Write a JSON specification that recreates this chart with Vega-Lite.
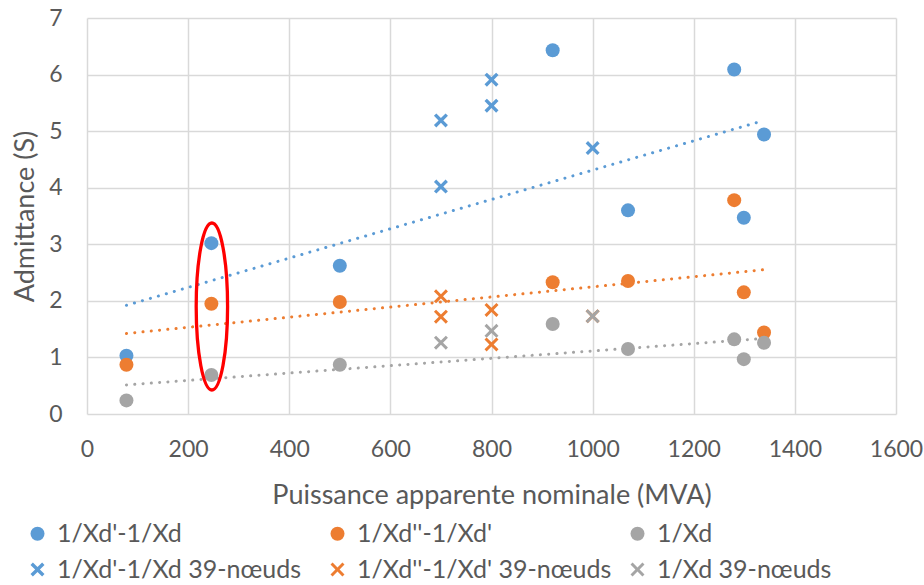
{
  "$schema": "https://vega.github.io/schema/vega-lite/v6.json",
  "width": 809,
  "height": 396,
  "autosize": "none",
  "padding": {"left": 87, "top": 18, "right": 28, "bottom": 171},
  "background": "white",
  "config": {
    "font": "Lato",
    "view": {"stroke": null},
    "axis": {
      "labelFont": "Lato", "titleFont": "Lato",
      "labelColor": "#595959", "titleColor": "#595959",
      "labelFontSize": 23, "titleFontSize": 27, "titleFontWeight": "normal",
      "gridColor": "#D9D9D9", "gridWidth": 1.5, "labelFlush": false,
      "domain": false, "ticks": false, "tickSize": 0
    },
    "legend": {"labelFont": "Lato"}
  },
  "datasets": {
    "pts": [
      {"series": "1/Xd'-1/Xd", "x": 78, "y": 1.03},
      {"series": "1/Xd'-1/Xd", "x": 246, "y": 3.02},
      {"series": "1/Xd'-1/Xd", "x": 500, "y": 2.62},
      {"series": "1/Xd'-1/Xd", "x": 921, "y": 6.43},
      {"series": "1/Xd'-1/Xd", "x": 1070, "y": 3.60},
      {"series": "1/Xd'-1/Xd", "x": 1280, "y": 6.09},
      {"series": "1/Xd'-1/Xd", "x": 1299, "y": 3.47},
      {"series": "1/Xd'-1/Xd", "x": 1339, "y": 4.94},
      {"series": "1/Xd''-1/Xd'", "x": 78, "y": 0.87},
      {"series": "1/Xd''-1/Xd'", "x": 246, "y": 1.95},
      {"series": "1/Xd''-1/Xd'", "x": 500, "y": 1.98},
      {"series": "1/Xd''-1/Xd'", "x": 921, "y": 2.33},
      {"series": "1/Xd''-1/Xd'", "x": 1070, "y": 2.35},
      {"series": "1/Xd''-1/Xd'", "x": 1280, "y": 3.78},
      {"series": "1/Xd''-1/Xd'", "x": 1299, "y": 2.15},
      {"series": "1/Xd''-1/Xd'", "x": 1339, "y": 1.44},
      {"series": "1/Xd", "x": 78, "y": 0.24},
      {"series": "1/Xd", "x": 246, "y": 0.69},
      {"series": "1/Xd", "x": 500, "y": 0.87},
      {"series": "1/Xd", "x": 921, "y": 1.59},
      {"series": "1/Xd", "x": 1070, "y": 1.15},
      {"series": "1/Xd", "x": 1280, "y": 1.32},
      {"series": "1/Xd", "x": 1299, "y": 0.97},
      {"series": "1/Xd", "x": 1339, "y": 1.26},
      {"series": "1/Xd'-1/Xd 39-nœuds", "x": 700, "y": 5.19},
      {"series": "1/Xd'-1/Xd 39-nœuds", "x": 700, "y": 4.02},
      {"series": "1/Xd'-1/Xd 39-nœuds", "x": 800, "y": 5.91},
      {"series": "1/Xd'-1/Xd 39-nœuds", "x": 800, "y": 5.45},
      {"series": "1/Xd'-1/Xd 39-nœuds", "x": 1000, "y": 4.70},
      {"series": "1/Xd''-1/Xd' 39-nœuds", "x": 700, "y": 2.08},
      {"series": "1/Xd''-1/Xd' 39-nœuds", "x": 700, "y": 1.72},
      {"series": "1/Xd''-1/Xd' 39-nœuds", "x": 800, "y": 1.84},
      {"series": "1/Xd''-1/Xd' 39-nœuds", "x": 800, "y": 1.23},
      {"series": "1/Xd''-1/Xd' 39-nœuds", "x": 1000, "y": 1.73},
      {"series": "1/Xd 39-nœuds", "x": 700, "y": 1.26},
      {"series": "1/Xd 39-nœuds", "x": 800, "y": 1.47},
      {"series": "1/Xd 39-nœuds", "x": 1000, "y": 1.73}
    ],
    "note": [{"x": 247, "y": 1.9}]
  },
  "encoding": {
    "x": {
      "field": "x", "type": "quantitative", "title": "Puissance apparente nominale (MVA)",
      "scale": {"domain": [0, 1600], "nice": false},
      "axis": {"values": [0, 200, 400, 600, 800, 1000, 1200, 1400, 1600], "format": "d", "labelPadding": 24, "titleY": 89, "titleBaseline": "alphabetic"}
    },
    "y": {
      "field": "y", "type": "quantitative", "title": "Admittance (S)",
      "scale": {"domain": [0, 7], "nice": false},
      "axis": {"values": [0, 1, 2, 3, 4, 5, 6, 7], "format": "d", "labelPadding": 25, "titleX": -54, "titleBaseline": "alphabetic"}
    }
  },
  "layer": [
    {
      "data": {"name": "pts"},
      "transform": [
        {"filter": {"field": "series", "oneOf": ["1/Xd'-1/Xd", "1/Xd''-1/Xd'", "1/Xd"]}},
        {"regression": "y", "on": "x", "groupby": ["series"]}
      ],
      "mark": {"type": "line", "strokeWidth": 3, "strokeDash": [0.1, 8.2], "strokeCap": "round"},
      "encoding": {
        "stroke": {
          "field": "series", "type": "nominal", "legend": null,
          "scale": {"domain": ["1/Xd'-1/Xd", "1/Xd''-1/Xd'", "1/Xd"], "range": ["#5B9BD5", "#ED7D31", "#A5A5A5"]}
        }
      }
    },
    {
      "data": {"name": "pts"},
      "mark": {"type": "point", "filled": true, "opacity": 1, "size": 196},
      "encoding": {
        "color": {
          "field": "series", "type": "nominal",
          "scale": {
            "domain": ["1/Xd'-1/Xd", "1/Xd''-1/Xd'", "1/Xd", "1/Xd'-1/Xd 39-nœuds", "1/Xd''-1/Xd' 39-nœuds", "1/Xd 39-nœuds"],
            "range": ["#5B9BD5", "#ED7D31", "#A5A5A5", "#5B9BD5", "#ED7D31", "#A5A5A5"]
          },
          "legend": {
            "title": null, "orient": "none", "legendX": -62, "legendY": 503, "columns": 3, "direction": "horizontal",
            "gridAlign": "all", "columnPadding": 13, "rowPadding": 10, "labelFontSize": 25, "labelColor": "#595959",
            "symbolSize": 150, "labelOffset": 7, "labelLimit": 400
          }
        },
        "shape": {
          "field": "series", "type": "nominal",
          "scale": {
            "domain": ["1/Xd'-1/Xd", "1/Xd''-1/Xd'", "1/Xd", "1/Xd'-1/Xd 39-nœuds", "1/Xd''-1/Xd' 39-nœuds", "1/Xd 39-nœuds"],
            "range": ["circle", "circle", "circle",
              "M-1,-0.66L-0.66,-1L0,-0.34L0.66,-1L1,-0.66L0.34,0L1,0.66L0.66,1L0,0.34L-0.66,1L-1,0.66L-0.34,0Z",
              "M-1,-0.7L-0.7,-1L0,-0.3L0.7,-1L1,-0.7L0.3,0L1,0.7L0.7,1L0,0.3L-0.7,1L-1,0.7L-0.3,0Z",
              "M-1,-0.7L-0.7,-1L0,-0.3L0.7,-1L1,-0.7L0.3,0L1,0.7L0.7,1L0,0.3L-0.7,1L-1,0.7L-0.3,0Z"]
          },
          "legend": {
            "title": null, "orient": "none", "legendX": -62, "legendY": 503, "columns": 3, "direction": "horizontal",
            "gridAlign": "all", "columnPadding": 13, "rowPadding": 10, "labelFontSize": 25, "labelColor": "#595959",
            "symbolSize": 150, "labelOffset": 7, "labelLimit": 400
          }
        },
        "size": {
          "field": "series", "type": "nominal", "legend": null,
          "scale": {
            "domain": ["1/Xd'-1/Xd", "1/Xd''-1/Xd'", "1/Xd", "1/Xd'-1/Xd 39-nœuds", "1/Xd''-1/Xd' 39-nœuds", "1/Xd 39-nœuds"],
            "range": [196, 196, 196, 240, 240, 240]
          }
        }
      }
    },
    {
      "data": {"name": "note"},
      "mark": {
        "type": "point", "filled": false, "opacity": 1, "color": "#FF0000", "strokeWidth": 3.3,
        "size": 27889, "shape": "M0,-1A0.188,1 0 1,1 0,1A0.188,1 0 1,1 0,-1Z"
      }
    }
  ]
}
